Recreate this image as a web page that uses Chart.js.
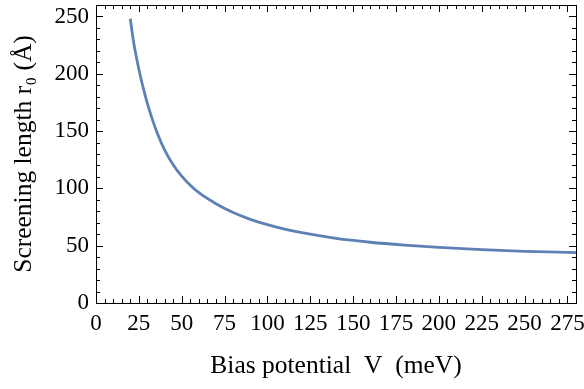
<!DOCTYPE html>
<html>
<head>
<meta charset="utf-8">
<script src="https://cdn.jsdelivr.net/npm/chart.js@4"></script>
<style>
html,body{margin:0;padding:0;background:#fff;}
#wrap{width:584px;height:389px;position:relative;}
</style>
</head>
<body>
<div id="wrap"><canvas id="c" width="584" height="389"></canvas></div>
<script>
// Bias potential V (meV)
const biasV = [20, 22, 25, 28, 30, 33, 36, 40, 45, 50, 55, 60, 70, 80, 90, 100, 110, 120, 140, 160, 180, 200, 225, 250, 280];
// Screening length r0 (Å)
const screeningR0 = [248, 227, 204, 185, 174, 159.6, 147.3, 133.7, 120.7, 110.7, 102.7, 96.2, 86.6, 78.9, 73, 68.3, 64.4, 61.3, 56.4, 53, 50.5, 48.5, 46.5, 45.1, 44];
const xTickValues = [0, 25, 50, 75, 100, 125, 150, 175, 200, 225, 250, 275];
const yTickValues = [0, 50, 100, 150, 200, 250];
const xMinorStep = 5;
const yMinorStep = 10;

const points = biasV.map((v, i) => ({x: v, y: screeningR0[i]}));
const FONT = "'Liberation Serif', 'DejaVu Serif', serif";

const framePlugin = {
  id: 'frameTicks',
  afterDatasetsDraw(chart) {
    const {ctx, chartArea: a, scales: {x, y}} = chart;
    ctx.save();
    ctx.strokeStyle = '#000';
    ctx.lineWidth = 1;
    ctx.strokeRect(Math.round(a.left) + 0.5, Math.round(a.top) + 0.5,
                   Math.round(a.right - a.left), Math.round(a.bottom - a.top));
    ctx.beginPath();
    for (let v = x.min; v <= x.max + 1e-9; v += xMinorStep) {
      const major = xTickValues.includes(v);
      const len = major ? 7 : 4;
      const px = Math.round(x.getPixelForValue(v)) + 0.5;
      ctx.moveTo(px, a.bottom); ctx.lineTo(px, a.bottom - len);
      ctx.moveTo(px, a.top); ctx.lineTo(px, a.top + len);
    }
    for (let v = y.min; v <= y.max + 1e-9; v += yMinorStep) {
      const major = yTickValues.includes(v);
      const len = major ? 7 : 4;
      const py = Math.round(y.getPixelForValue(v)) + 0.5;
      ctx.moveTo(a.left, py); ctx.lineTo(a.left + len, py);
      ctx.moveTo(a.right, py); ctx.lineTo(a.right - len, py);
    }
    ctx.stroke();
    ctx.restore();
  }
};

new Chart(document.getElementById('c'), {
  type: 'line',
  data: {
    datasets: [{
      data: points,
      borderColor: 'rgb(94,129,181)',
      borderWidth: 2.8,
      pointRadius: 0,
      fill: false,
      cubicInterpolationMode: 'monotone'
    }]
  },
  options: {
    responsive: false,
    animation: false,
    layout: {padding: {left: 0, right: 8, top: 5, bottom: 0}},
    plugins: {legend: {display: false}, tooltip: {enabled: false}},
    scales: {
      x: {
        type: 'linear', min: 0, max: 280,
        afterBuildTicks: s => { s.ticks = xTickValues.map(v => ({value: v})); },
        afterFit: s => { s.height = 86; s.paddingLeft = 0; s.paddingRight = 0; },
        grid: {display: false, drawTicks: false},
        border: {display: false},
        ticks: {color: '#000', font: {family: FONT, size: 23}, padding: 7, maxRotation: 0, autoSkip: false},
        title: {display: true, text: 'Bias potential  V  (meV)', color: '#000', font: {family: FONT, size: 25.5}, padding: {top: 0, bottom: 7.5}}
      },
      y: {
        type: 'linear', min: 0, max: 260,
        afterBuildTicks: s => { s.ticks = yTickValues.map(v => ({value: v})); },
        afterFit: s => { s.width = 96; s.paddingTop = 0; s.paddingBottom = 0; },
        grid: {display: false, drawTicks: false},
        border: {display: false},
        ticks: {color: '#000', font: {family: FONT, size: 23}, padding: 7, autoSkip: false},
        title: {display: true, text: 'Screening length r₀ (Å)', color: '#000', font: {family: FONT, size: 25.5}, padding: {top: 8.5, bottom: 0}}
      }
    }
  },
  plugins: [framePlugin]
});
</script>
</body>
</html>
